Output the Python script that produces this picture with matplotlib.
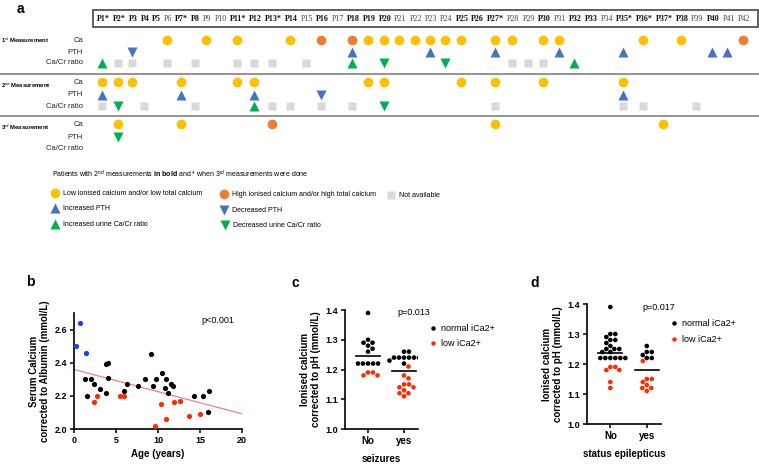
import numpy as np
import matplotlib
matplotlib.use("Agg")
import matplotlib.pyplot as plt
from matplotlib.lines import Line2D
from matplotlib.patches import Rectangle

plt.rcParams['font.family'] = ['Liberation Sans', 'DejaVu Sans']
plt.rcParams['mathtext.fontset'] = 'custom'
plt.rcParams['mathtext.rm'] = 'Liberation Sans'
plt.rcParams['mathtext.bf'] = 'Liberation Sans:bold'
plt.rcParams['mathtext.it'] = 'Liberation Sans:italic'

# ---------- panel a: patient table -------------------------------------------
n_patients = 42
bold_patients = [1, 2, 3, 4, 5, 7, 8, 11, 12, 13, 14, 16, 18, 19, 20, 25, 26,
                 27, 30, 32, 33, 35, 36, 37, 38, 40]
third_patients = [1, 2, 7, 11, 13, 27, 35, 36, 37]

# 1st measurement
m1_ca_low = [6, 9, 11, 14, 19, 20, 21, 22, 23, 24, 25, 27, 28, 30, 31, 36, 38]
m1_ca_high = [16, 18, 42]
m1_pth_up = [18, 23, 27, 31, 35, 40, 41]
m1_pth_down = [3]
m1_ratio_up = [1, 18, 32]
m1_ratio_down = [20, 24]
m1_ratio_na = [2, 3, 6, 8, 11, 12, 13, 15, 28, 29, 30]

# 2nd measurement
m2_ca_low = [1, 2, 3, 7, 11, 12, 19, 20, 25, 27, 30, 35]
m2_pth_up = [1, 7, 12, 35]
m2_pth_down = [16]
m2_ratio_up = [12]
m2_ratio_down = [2, 20]
m2_ratio_na = [1, 4, 8, 13, 14, 16, 18, 27, 35, 36, 39]

# 3rd measurement
m3_ca_low = [2, 7, 27, 37]
m3_ca_high = [13]
m3_pth_down_green = [2]

# ---------- panel b: age vs serum calcium ------------------------------------
age_black = [1.3, 1.5, 2.0, 2.4, 3.1, 3.8, 3.8, 4.0, 4.05, 6.0, 6.3, 7.6, 8.4,
             9.2, 9.4, 9.8, 10.5, 10.8, 11.0, 11.2, 11.6, 11.8, 14.3, 15.4,
             15.9, 16.1]
ca_black = [2.30, 2.20, 2.30, 2.27, 2.24, 2.22, 2.39, 2.40, 2.31, 2.23, 2.27,
            2.26, 2.30, 2.45, 2.26, 2.30, 2.34, 2.25, 2.30, 2.22, 2.27, 2.26,
            2.20, 2.20, 2.10, 2.23]
age_red = [2.4, 2.75, 5.5, 5.95, 9.6, 10.35, 10.95, 11.85, 12.6, 13.7, 15.0]
ca_red = [2.16, 2.20, 2.20, 2.20, 2.02, 2.15, 2.06, 2.16, 2.17, 2.08, 2.09]
age_blue = [0.25, 0.7, 1.4]
ca_blue = [2.50, 2.64, 2.46]

# ---------- panels c and d: ionised calcium ----------------------------------
c_no_normal = [1.39, 1.30, 1.29, 1.29, 1.28, 1.27, 1.26, 1.22, 1.22, 1.22, 1.22, 1.22]
c_no_low = [1.19, 1.19, 1.18, 1.18]
c_yes_normal = [1.26, 1.26, 1.24, 1.24, 1.24, 1.24, 1.24, 1.24, 1.23, 1.23, 1.22]
c_yes_low = [1.21, 1.18, 1.17, 1.15, 1.15, 1.14, 1.14, 1.13, 1.12, 1.12, 1.11]

d_no_normal = [1.39, 1.30, 1.30, 1.29, 1.28, 1.28, 1.27, 1.26, 1.25, 1.25, 1.25,
               1.24, 1.24, 1.22, 1.22, 1.22, 1.22, 1.22, 1.22]
d_no_low = [1.19, 1.19, 1.18, 1.18, 1.14, 1.12]
d_yes_normal = [1.26, 1.24, 1.24, 1.23, 1.22, 1.22]
d_yes_low = [1.21, 1.15, 1.15, 1.14, 1.13, 1.12, 1.12, 1.11]

YELLOW, ORANGE, BLUE, GREEN, GREY = "#FFC000", "#ED7D31", "#4472C4", "#00B050", "#D9D9D9"
DOT_RED, DOT_BLUE = "#FF2A00", "#1A3CFF"

styles = {
    "low": dict(marker="o", color=YELLOW, ms=7),
    "high": dict(marker="o", color=ORANGE, ms=7),
    "pth_up": dict(marker="^", color=BLUE, ms=7),
    "pth_down": dict(marker="v", color=BLUE, ms=7),
    "ratio_up": dict(marker="^", color=GREEN, ms=7),
    "ratio_down": dict(marker="v", color=GREEN, ms=7),
    "na": dict(marker="s", color=GREY, ms=5.5),
}

fig = plt.figure(figsize=(7.59, 4.65), dpi=100)

# overlay axes in pixel units for panel a and letters
ax0 = fig.add_axes([0, 0, 1, 1])
ax0.set_xlim(0, 759)
ax0.set_ylim(465, 0)
ax0.axis("off")

# header labels laid out as a flowing row of text
renderer = fig.canvas.get_renderer()
labels = []
for i in range(1, n_patients + 1):
    s = f"P{i}" + ("*" if i in third_patients else "")
    t = ax0.text(0, 19, s, fontsize=5.8, family="Liberation Serif",
                 fontweight="bold" if i in bold_patients else "normal",
                 color="#111111" if i in bold_patients else "#444444",
                 ha="left", va="center")
    labels.append(t)
widths = [t.get_window_extent(renderer=renderer).width for t in labels]
x_start, x_end = 97, 750
gap = (x_end - x_start - sum(widths)) / (n_patients - 1)
col_x = []
x = x_start
for t, w in zip(labels, widths):
    t.set_x(x)
    col_x.append(x + w / 2 - 1)
    x += w + gap
ax0.add_patch(Rectangle((93, 10), 665, 17, fill=False, ec="#444444", lw=1.2))

rows = [
    (40, {"low": m1_ca_low, "high": m1_ca_high}),
    (52, {"pth_up": m1_pth_up, "pth_down": m1_pth_down}),
    (63, {"ratio_up": m1_ratio_up, "ratio_down": m1_ratio_down, "na": m1_ratio_na}),
    (82, {"low": m2_ca_low}),
    (95, {"pth_up": m2_pth_up, "pth_down": m2_pth_down}),
    (106, {"ratio_up": m2_ratio_up, "ratio_down": m2_ratio_down, "na": m2_ratio_na}),
    (124, {"low": m3_ca_low, "high": m3_ca_high}),
    (137, {"ratio_down": m3_pth_down_green}),
    (148, {}),
]
row_names = ["Ca", "PTH", "Ca/Cr ratio"] * 3
for (y, kinds), name in zip(rows, row_names):
    ax0.text(83, y, name, fontsize=5.5, ha="right", va="center", color="#222222")
    for kind, pats in kinds.items():
        xs = [col_x[p - 1] for p in pats]
        ax0.plot(xs, [y] * len(xs), ls="none", mec="none", **styles[kind])

for y, g in [(41, "1$^{st}$"), (85, "2$^{nd}$"), (127, "3$^{rd}$")]:
    ax0.text(1, y, g + " Measurement", fontsize=4.2, fontweight="bold",
             ha="left", va="center")
for y in [74, 116]:
    ax0.plot([0, 759], [y, y], color="#808080", lw=1.2)

ax0.text(52, 174, r"Patients with 2$^{nd}$ measurements $\mathbf{in\ bold}$ and * when 3$^{rd}$ measurements were done",
         fontsize=5, ha="left", va="center")
legend_items = [
    (55, 193, "low", "Low ionised calcium and/or low total calcium"),
    (55, 208, "pth_up", "Increased PTH"),
    (55, 224, "ratio_up", "Increased urine Ca/Cr ratio"),
    (224, 194, "high", "High ionised calcium and/or high total calcium"),
    (224, 210, "pth_down", "Decreased PTH"),
    (225, 225, "ratio_down", "Decreased urine Ca/Cr ratio"),
    (391, 195, "na", "Not available"),
]
for lx, ly, kind, txt in legend_items:
    ax0.plot([lx], [ly], ls="none", mec="none", **styles[kind])
    ax0.text(lx + 8, ly, txt, fontsize=5, ha="left", va="center")

for lx, ly, letter in [(17, 9, "a"), (26, 282, "b"), (292, 283, "c"), (530, 283, "d")]:
    ax0.text(lx, ly, letter, fontsize=10, fontweight="bold", ha="left", va="center")


def style_axes(ax):
    for s in ["top", "right"]:
        ax.spines[s].set_visible(False)
    for s in ["left", "bottom"]:
        ax.spines[s].set_linewidth(1.2)
    ax.tick_params(width=1.1, length=3, labelsize=6.5, pad=2)
    for lab in ax.get_xticklabels() + ax.get_yticklabels():
        lab.set_fontweight("bold")


# ---------- panel b ----------------------------------------------------------
axb = fig.add_axes([74 / 759, 36 / 465, 168 / 759, 116 / 465])
axb.scatter(age_black, ca_black, s=14, color="black", lw=0, zorder=3)
axb.scatter(age_red, ca_red, s=14, color=DOT_RED, lw=0, zorder=3)
axb.scatter(age_blue, ca_blue, s=14, color=DOT_BLUE, lw=0, zorder=3)
all_age = np.array(age_black + age_red + age_blue)
all_ca = np.array(ca_black + ca_red + ca_blue)
slope, intercept = np.polyfit(all_age, all_ca, 1)
xx = np.array([0, 20])
axb.plot(xx, intercept + slope * xx, color="#F28080", lw=0.9, zorder=2)
axb.set_xlim(0, 20)
axb.set_ylim(2.0, 2.7)
axb.set_xticks([0, 5, 10, 15, 20])
axb.set_yticks([2.0, 2.2, 2.4, 2.6])
axb.set_yticklabels(["2.0", "2.2", "2.4", "2.6"])
style_axes(axb)
axb.set_xlabel("Age (years)", fontsize=7, fontweight="bold", labelpad=3)
axb.set_ylabel("Serum Calcium\ncorrected to Albumin (mmol/L)", fontsize=7,
               fontweight="bold", labelpad=3)
axb.text(15.2, 2.655, "p<0.001", fontsize=6.5, ha="left", va="center")


# ---------- panels c and d ---------------------------------------------------
def swarm_x(values, center, xscale, yscale, dmin=5.0):
    # simple beeswarm in pixel space: closest free offset to the centre
    vals = np.asarray(values, dtype=float)
    order = np.argsort(-vals, kind="stable")
    placed = []
    xs = np.zeros(len(vals))
    cands = [0.0]
    for k in range(1, 60):
        cands += [k * 0.5, -k * 0.5]
    for i in order:
        py = vals[i] * yscale
        for c in cands:
            if all((c - qx) ** 2 + (py - qy) ** 2 >= dmin ** 2 for qx, qy in placed):
                placed.append((c, py))
                xs[i] = center + c / xscale
                break
    return xs


def dot_panel(rect, groups, xlabel, ptext, pxy, leg_anchor):
    ax = fig.add_axes(rect)
    xscale = rect[2] * 759 / 2.03
    yscale = rect[3] * 465 / 0.4
    for gi, (normal, low) in enumerate(groups):
        vals = normal + low
        xs = swarm_x(vals, gi, xscale, yscale)
        cols = ["black"] * len(normal) + [DOT_RED] * len(low)
        ax.scatter(xs, vals, s=11, c=cols, lw=0, zorder=3)
        m = np.mean(vals)
        ax.plot([gi - 0.33, gi + 0.33], [m, m], color="black", lw=1.2, zorder=2)
    ax.set_xlim(-0.64, 1.39)
    ax.set_ylim(1.0, 1.4)
    ax.set_xticks([0, 1])
    ax.set_xticklabels(["No", "yes"])
    ax.set_yticks([1.0, 1.1, 1.2, 1.3, 1.4])
    ax.set_yticklabels(["1.0", "1.1", "1.2", "1.3", "1.4"])
    style_axes(ax)
    ax.tick_params(axis="x", labelsize=7)
    ax.set_xlabel(xlabel, fontsize=7, fontweight="bold", labelpad=6)
    ax.set_ylabel("Ionised calcium\ncorrected to pH (mmol/L)", fontsize=7,
                  fontweight="bold", labelpad=3)
    ax.text(pxy[0], pxy[1], ptext, fontsize=6.5, ha="left", va="center")
    handles = [Line2D([], [], ls="none", marker="o", ms=3.2, mec="none", color="black"),
               Line2D([], [], ls="none", marker="o", ms=3.2, mec="none", color=DOT_RED)]
    ax.legend(handles, ["normal iCa2+", "low iCa2+"], loc="upper left",
              bbox_to_anchor=leg_anchor, frameon=False, fontsize=6.5,
              handlelength=1, handletextpad=0.4, borderaxespad=0, borderpad=0,
              labelspacing=0.75)
    return ax


dot_panel([345 / 759, 36 / 465, 73 / 759, 119 / 465],
          [(c_no_normal, c_no_low), (c_yes_normal, c_yes_low)],
          "seizures", "p=0.013", (0.83, 1.393), (1.144, 0.885))
dot_panel([587 / 759, 41 / 465, 74 / 759, 120 / 465],
          [(d_no_normal, d_no_low), (d_yes_normal, d_yes_low)],
          "status epilepticus", "p=0.017", (0.89, 1.387), (1.115, 0.875))

fig.savefig("out.png", dpi=100)
